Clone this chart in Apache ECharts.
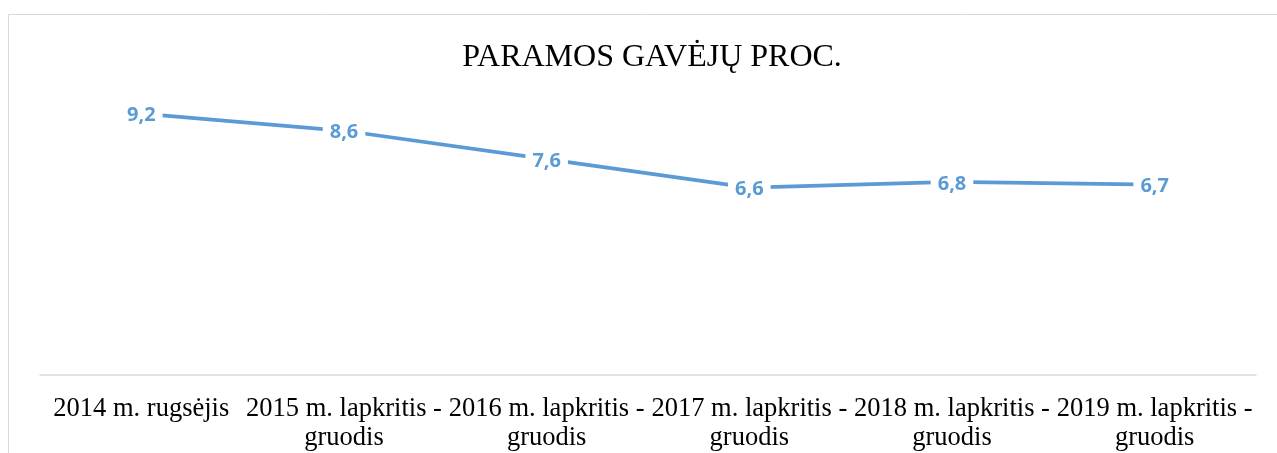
<!DOCTYPE html>
<html>
<head>
<meta charset="utf-8">
<script src="https://cdn.jsdelivr.net/npm/echarts@6/dist/echarts.min.js"></script>
<style>
  html, body { margin: 0; padding: 0; background: #fff; }
  #chart { width: 1277px; height: 453px; }
</style>
</head>
<body>
<div id="chart"></div>
<script>
  var categories = [
    '2014 m. rugsėjis',
    '2015 m. lapkritis - gruodis',
    '2016 m. lapkritis - gruodis',
    '2017 m. lapkritis - gruodis',
    '2018 m. lapkritis - gruodis',
    '2019 m. lapkritis - gruodis'
  ]
  var values = [9.2, 8.6, 7.6, 6.6, 6.8, 6.7]

  var chart = echarts.init(document.getElementById('chart'))
  chart.setOption({
    backgroundColor: '#fff',
    animation: false,
    title: {
      text: 'PARAMOS GAVĖJŲ PROC.',
      left: 647,
      top: 37,
      textAlign: 'center',
      textStyle: {
        fontFamily: 'Liberation Serif',
        fontWeight: 'normal',
        fontSize: 32,
        color: '#000'
      }
    },
    graphic: [
      {
        type: 'rect',
        shape: { x: 8.5, y: 14.5, width: 1400, height: 600 },
        style: { fill: 'none', stroke: '#d9d9d9', lineWidth: 1 },
        silent: true,
        z: -1
      }
    ],
    grid: {
      left: 40,
      right: 21,
      top: 91,
      bottom: 77
    },
    xAxis: {
      type: 'category',
      data: categories,
      boundaryGap: true,
      axisLine: { lineStyle: { color: '#d9d9d9', width: 1.5 } },
      axisTick: { show: false },
      axisLabel: {
        interval: 0,
        margin: 20,
        fontFamily: 'Liberation Serif',
        fontSize: 26.5,
        lineHeight: 29,
        color: '#000',
        formatter: function (v) { return v.replace(' - ', ' -\n') }
      }
    },
    yAxis: {
      type: 'value',
      min: 0,
      max: 10,
      show: false
    },
    series: [
      {
        type: 'line',
        data: values,
        symbol: 'circle',
        symbolSize: 0,
        showSymbol: true,
        lineStyle: { color: '#5b9bd5', width: 3.75, cap: 'round' },
        itemStyle: { color: '#5b9bd5' },
        label: {
          show: true,
          position: 'inside',
          offset: [0, 2],
          fontFamily: 'Open Sans',
          fontWeight: 'bold',
          fontSize: 20,
          color: '#5b9bd5',
          backgroundColor: '#fff',
          padding: [3, 7],
          formatter: function (p) { return String(p.value).replace('.', ',') }
        }
      }
    ]
  })
</script>
</body>
</html>
